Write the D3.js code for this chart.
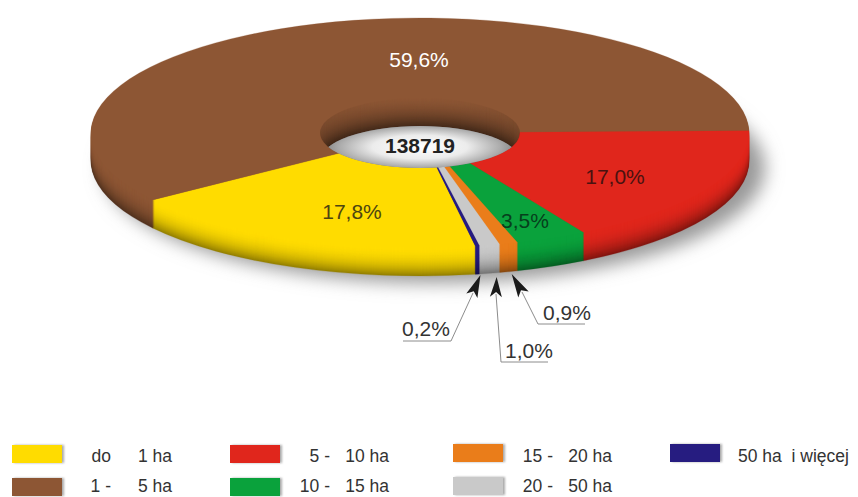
<!DOCTYPE html>
<html lang="pl">
<head>
<meta charset="utf-8">
<title>Gospodarstwa wg powierzchni</title>
<script src="https://cdn.jsdelivr.net/npm/d3@7"></script>
<style>
    html, body { margin: 0; padding: 0; background: #fff; overflow: hidden; }
    text { font-family: "Liberation Sans", Arial, sans-serif; }
</style>
</head>
<body>
<div id="chart"></div>
<script>
/* -------------------------------------------------------
   DATA
------------------------------------------------------- */
const categories = ["do 1 ha", "1 - 5 ha", "5 - 10 ha", "10 - 15 ha", "15 - 20 ha", "20 - 50 ha", "50 ha i więcej"];
const shares = [17.8, 59.6, 17.0, 3.5, 0.9, 1.0, 0.2];
const colors = ["#ffdc00", "#8d5634", "#e0261c", "#0aa23c", "#ea7d1a", "#c9c9c9", "#261c80"];
const labelColors = ["#4d4510", "#ffffff", "#4a1210", "#06401c"];
const legendPrefix = ["do", "1 -", "5 -", "10 -", "15 -", "20 -", ""];
const legendSuffix = ["1 ha", "5 ha", "10 ha", "15 ha", "20 ha", "50 ha", "50 ha  i więcej"];
const total = "138719";

/* -------------------------------------------------------
   SETUP
------------------------------------------------------- */
const width = 858, height = 497;
const cx = 420, cy = 133, rx = 329, ry = 115, holeRx = 100, depth = 28;
const squash = ry / rx;

const svg = d3.select("#chart").append("svg")
    .attr("width", width)
    .attr("height", height);

const defs = svg.append("defs");
defs.append("filter").attr("id", "blur")
    .attr("x", "-10%").attr("y", "-20%").attr("width", "120%").attr("height", "140%")
    .append("feGaussianBlur").attr("stdDeviation", 9);
defs.append("filter").attr("id", "blurSmall")
    .attr("x", "-20%").attr("y", "-40%").attr("width", "140%").attr("height", "180%")
    .append("feGaussianBlur").attr("stdDeviation", 1);

const lensGrad = defs.append("radialGradient").attr("id", "lens")
    .attr("gradientUnits", "userSpaceOnUse")
    .attr("cx", 0).attr("cy", 0).attr("r", 95)
    .attr("gradientTransform", `translate(${cx},147) scale(1,0.25)`);
lensGrad.append("stop").attr("offset", "0%").attr("stop-color", "#ffffff");
lensGrad.append("stop").attr("offset", "50%").attr("stop-color", "#ececec");
lensGrad.append("stop").attr("offset", "85%").attr("stop-color", "#ababab");
lensGrad.append("stop").attr("offset", "100%").attr("stop-color", "#888888");

const wallGrad = defs.append("linearGradient").attr("id", "wall")
    .attr("x1", 0).attr("y1", 0).attr("x2", 0).attr("y2", 1);
wallGrad.append("stop").attr("offset", "0%").attr("stop-color", "#000").attr("stop-opacity", 0);
wallGrad.append("stop").attr("offset", "60%").attr("stop-color", "#000").attr("stop-opacity", 0.22);
wallGrad.append("stop").attr("offset", "100%").attr("stop-color", "#000").attr("stop-opacity", 0.22);

defs.append("clipPath").attr("id", "holeClip")
    .append("ellipse")
    .attr("cx", cx).attr("cy", cy)
    .attr("rx", holeRx).attr("ry", holeRx * squash);

const color = d3.scaleOrdinal().domain(categories).range(colors);
const pct = v => d3.format(".1f")(v).replace(".", ",") + "%";
const deg = a => a * Math.PI / 180;

const pie = d3.pie().sort(null)
    .startAngle(deg(170.3))
    .endAngle(deg(530.3));
const slices = pie(shares);

const arc = d3.arc().innerRadius(holeRx).outerRadius(rx);

// punkt na dolnej krawedzi ranta dla danego kawalka
function rimPoint(s) {
    const a = (s.startAngle + s.endAngle) / 2;
    return [cx + rx * Math.sin(a), cy - ry * Math.cos(a) + depth];
}

/* -------------------------------------------------------
   CIEN
------------------------------------------------------- */
svg.append("ellipse")
    .attr("cx", cx + 14).attr("cy", cy + depth + 7)
    .attr("rx", rx + 2).attr("ry", ry)
    .attr("fill", "#999")
    .attr("filter", "url(#blur)");

/* -------------------------------------------------------
   WARSTWY (ranty), od najnizszej do gornej
------------------------------------------------------- */
const layers = d3.range(depth, -1, -1);

svg.append("g").selectAll("g")
    .data(layers)
    .enter()
    .append("g")
    .attr("transform", d => `translate(${cx},${cy + d}) scale(1,${squash})`)
    .each(function (dy) {
        const t = Math.pow(dy / depth, 2.2);
        const shade = (d, i) => {
            const base = color(categories[i]);
            return d3.interpolateRgb(base, d3.color(base).darker(1.5))(t);
        };
        d3.select(this).selectAll("path")
            .data(slices)
            .enter()
            .append("path")
            .attr("d", arc)
            .attr("fill", shade)
            .attr("stroke", shade)
            .attr("stroke-width", 0.4);
    });

/* -------------------------------------------------------
   OTWOR: sciana + dno
------------------------------------------------------- */
const hole = svg.append("g").attr("clip-path", "url(#holeClip)");

hole.append("rect")
    .attr("x", cx - holeRx).attr("y", cy - holeRx * squash)
    .attr("width", holeRx * 2).attr("height", holeRx * squash * 2)
    .attr("fill", "url(#wall)");

hole.append("ellipse")
    .attr("cx", cx).attr("cy", cy + depth)
    .attr("rx", holeRx).attr("ry", holeRx * squash)
    .attr("fill", "url(#lens)");

/* -------------------------------------------------------
   ETYKIETY
------------------------------------------------------- */
const insideX = [352, 419, 615, 525];
const insideY = [219, 67, 184, 228];

svg.append("g").selectAll("text")
    .data(shares.slice(0, 4))
    .enter()
    .append("text")
    .attr("x", (d, i) => insideX[i])
    .attr("y", (d, i) => insideY[i])
    .attr("text-anchor", "middle")
    .attr("font-size", 21)
    .attr("fill", (d, i) => labelColors[i])
    .text(pct);

svg.append("text")
    .attr("x", cx).attr("y", 153)
    .attr("text-anchor", "middle")
    .attr("font-size", 21)
    .attr("font-weight", "bold")
    .attr("fill", "#222")
    .text(total);

/* -------------------------------------------------------
   ODNOSNIKI ze strzalkami
------------------------------------------------------- */
const callouts = [
    { idx: 6, nudge: 3, tipY: 275, base: [473, 293], elbow: [451, 341], end: [403, 341], text: [402, 336] },
    { idx: 5, nudge: 7, tipY: 277, base: [496, 294], elbow: [501, 362], end: [548, 362], text: [505, 358] },
    { idx: 4, nudge: 3, tipY: 274, base: [522, 292], elbow: [538, 324], end: [585, 324], text: [543, 320] }
];

const calloutG = svg.append("g");

callouts.forEach(c => {
    const tip = [rimPoint(slices[c.idx])[0] + c.nudge, c.tipY];
    const dx = c.base[0] - tip[0], dy = c.base[1] - tip[1];
    const len = Math.hypot(dx, dy);
    const ux = dx / len, uy = dy / len;
    const wing = 6;

    calloutG.append("path")
        .attr("d", d3.line()([c.base, c.elbow, c.end]))
        .attr("fill", "none")
        .attr("stroke", "#8c8c8c")
        .attr("stroke-width", 1);

    calloutG.append("path")
        .attr("d", d3.line()([
            tip,
            [c.base[0] + ux * 3 - uy * wing, c.base[1] + uy * 3 + ux * wing],
            [c.base[0] - ux * 2, c.base[1] - uy * 2],
            [c.base[0] + ux * 3 + uy * wing, c.base[1] + uy * 3 - ux * wing]
        ]) + "Z")
        .attr("fill", "#1a1a1a");

    calloutG.append("text")
        .attr("x", c.text[0]).attr("y", c.text[1])
        .attr("font-size", 21)
        .attr("fill", "#333")
        .text(pct(shares[c.idx]));
});

/* -------------------------------------------------------
   LEGENDA
------------------------------------------------------- */
const colX = [12, 230, 453, 670];
const prefixEnd = [111, 330, 553];
const suffixEnd = [172, 389, 612];
const rowY = [445, 478];
const rowText = [462, 492];
const rowYShift = [0, 0, -1, -1];
const legend = svg.append("g");

const entry = legend.selectAll("g")
    .data(categories)
    .enter()
    .append("g");

entry.append("rect")
    .attr("x", (d, i) => colX[Math.floor(i / 2)] + 2)
    .attr("y", (d, i) => rowY[i % 2] + rowYShift[Math.floor(i / 2)])
    .attr("width", 50).attr("height", 18)
    .attr("fill", "#aaa")
    .attr("filter", "url(#blurSmall)");

entry.append("rect")
    .attr("x", (d, i) => colX[Math.floor(i / 2)])
    .attr("y", (d, i) => rowY[i % 2] + rowYShift[Math.floor(i / 2)])
    .attr("width", 50).attr("height", 18)
    .attr("fill", d => color(d));

entry.append("text")
    .attr("x", (d, i) => prefixEnd[Math.floor(i / 2)])
    .attr("y", (d, i) => rowText[i % 2])
    .attr("text-anchor", "end")
    .attr("font-size", 17.5)
    .attr("fill", "#333")
    .text((d, i) => legendPrefix[i]);

entry.append("text")
    .attr("x", (d, i) => i === 6 ? 738 : suffixEnd[Math.floor(i / 2)])
    .attr("y", (d, i) => rowText[i % 2])
    .attr("text-anchor", (d, i) => i === 6 ? "start" : "end")
    .attr("font-size", 17.5)
    .attr("fill", "#333")
    .attr("xml:space", "preserve")
    .text((d, i) => legendSuffix[i]);
</script>
</body>
</html>
